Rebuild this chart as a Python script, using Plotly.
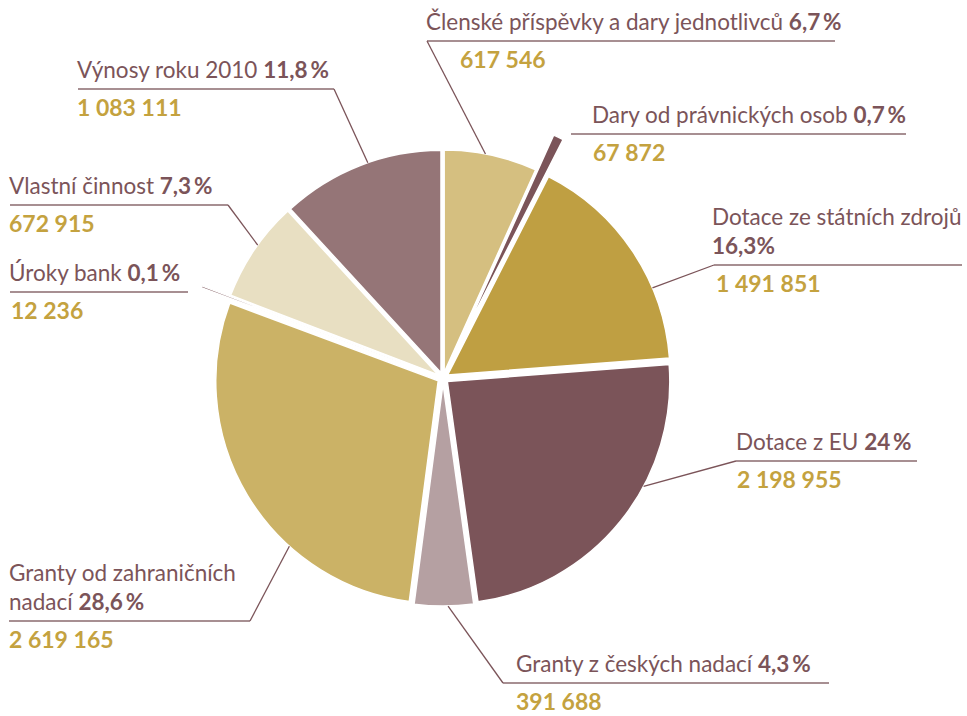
import math
import plotly.graph_objects as go

# ---------------- data ----------------
categories = [
    "Členské příspěvky a dary jednotlivců",
    "Dary od právnických osob",
    "Dotace ze státních zdrojů",
    "Dotace z EU",
    "Granty z českých nadací",
    "Granty od zahraničních nadací",
    "Úroky bank",
    "Vlastní činnost",
    "Výnosy roku 2010",
]
values = [617546, 67872, 1491851, 2198955, 391688, 2619165, 12236, 672915, 1083111]
pct_text = ["6,7\u2009%", "0,7\u2009%", "16,3%", "24\u2009%", "4,3\u2009%",
            "28,6\u2009%", "0,1\u2009%", "7,3\u2009%", "11,8\u2009%"]
label_text = [
    "Členské příspěvky a dary jednotlivců",
    "Dary od právnických osob",
    "Dotace ze státních zdrojů<br>",
    "Dotace z EU",
    "Granty z českých nadací",
    "Granty od zahraničních<br>nadací",
    "Úroky bank",
    "Vlastní činnost",
    "Výnosy roku 2010",
]

# ---------------- style ----------------
colors = ["#d5bf80", "#7b5459", "#bf9f42", "#7b5459", "#b5a0a2",
          "#cbb266", "#7b5459", "#e8dfc2", "#957577"]
pulls = [0.025, 0.2, 0.025, 0.025, 0.025, 0.025, 0.16, 0.025, 0.025]
TXT = "#7b5459"
VAL = "#c4a23f"
LINE = "#8a6a6e"
FONT = "Lato"
FS_LAB = 22.5
FS_VAL = 23

W, H = 967, 716
cx, cy = 443, 378
R = 222.5
maxp = max(pulls)
half = R * (1 + maxp)

# label layout: (text x, rule y, rule x0, rule x1, value x, leader from ('l'/'r'/None), leader angle)
layout_pos = [
    (427, 41, 427, 835, 461, "l", 10.7),
    (593, 134, 571, 906, 594, None, None),
    (713, 265, 714, 962, 717, "l", 67.0),
    (737, 461, 736, 917, 738, "l", 118.1),
    (517, 683, 503, 829, 517, "l", 178.7),
    (10, 621, 9, 250, 10, "r", 222.0),
    (10, 292, 10, 188, 12, None, None),
    (10, 205, 10, 228, 10, "r", 305.7),
    (78, 89, 78, 334, 78, "r", 340.8),
]

total = sum(values)
mids = []
cum = 0
for v in values:
    frac = v / total
    mids.append((cum + frac / 2) * 360)
    cum += frac


def px(x):
    return x / W


def py(y):
    return 1 - y / H


def arc_point(i, phi):
    off = pulls[i] * R
    m = math.radians(mids[i])
    p = math.radians(phi)
    x = cx + off * math.sin(m) + R * math.sin(p)
    y = cy - off * math.cos(m) - R * math.cos(p)
    return x, y


fig = go.Figure(go.Pie(
    labels=categories,
    values=values,
    sort=False,
    direction="clockwise",
    rotation=0,
    pull=pulls,
    marker=dict(colors=colors, line=dict(color="white", width=1.5)),
    textinfo="none",
    hoverinfo="none",
    showlegend=False,
    domain=dict(x=[(cx - half) / W, (cx + half) / W],
                y=[(H - cy - half) / H, (H - cy + half) / H]),
))

annotations = []
shapes = []
for i in range(len(categories)):
    tx, ry, rx0, rx1, vx, side, ang = layout_pos[i]
    lt = label_text[i]
    if lt.endswith("<br>"):
        txt = f"{lt}<b>{pct_text[i]}</b>"
    else:
        txt = f"{lt} <b>{pct_text[i]}</b>"
    annotations.append(dict(
        x=px(tx - 3), y=py(ry - 4), xref="paper", yref="paper",
        xanchor="left", yanchor="bottom", align="left", showarrow=False,
        text=txt, font=dict(family=FONT, size=FS_LAB, color=TXT),
    ))
    annotations.append(dict(
        x=px(vx - 2), y=py(ry + 3), xref="paper", yref="paper",
        xanchor="left", yanchor="top", align="left", showarrow=False,
        borderpad=0,
        text=f"<b>{values[i]:,}</b>".replace(",", " "),
        font=dict(family=FONT, size=FS_VAL, color=VAL),
    ))
    shapes.append(dict(type="line", xref="paper", yref="paper",
                       x0=px(rx0), x1=px(rx1), y0=py(ry), y1=py(ry),
                       line=dict(color=LINE, width=1.5)))
    if side is not None:
        sx = rx0 if side == "l" else rx1
        ex, ey = arc_point(i, ang)
        shapes.append(dict(type="line", xref="paper", yref="paper",
                           x0=px(sx), y0=py(ry), x1=px(ex), y1=py(ey),
                           line=dict(color=TXT, width=1.3)))

fig.update_layout(
    width=W, height=H,
    margin=dict(l=0, r=0, t=0, b=0),
    paper_bgcolor="white", plot_bgcolor="white",
    annotations=annotations, shapes=shapes,
)

fig.write_html("out.html",
               config={"displayModeBar": False},
               post_script="document.body.style.margin='0';"
                           "document.body.style.overflow='hidden';")
